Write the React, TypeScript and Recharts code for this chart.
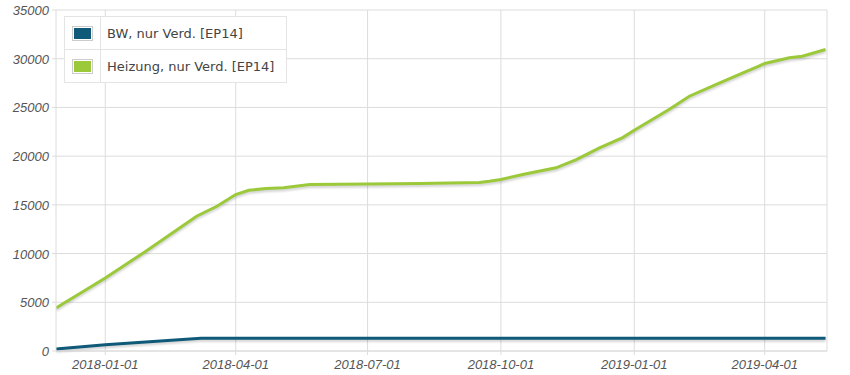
import React from "react";
import {
  LineChart,
  Line,
  XAxis,
  YAxis,
  CartesianGrid,
  ReferenceLine,
} from "recharts";

const seriesNames = ["BW, nur Verd. [EP14]", "Heizung, nur Verd. [EP14]"];
const seriesColors = ["#0e5a78", "#9bc93a"];

const bwDates = ["2017-11-28", "2018-01-01", "2018-03-08", "2018-06-01", "2018-10-01", "2019-01-01", "2019-05-13"];
const bwValues = [200, 650, 1300, 1300, 1300, 1300, 1300];

const heizDates = [
  "2017-11-28", "2018-01-01", "2018-01-29", "2018-03-05", "2018-03-19",
  "2018-04-01", "2018-04-10", "2018-04-22", "2018-05-04", "2018-05-22",
  "2018-07-01", "2018-08-06", "2018-09-16", "2018-09-23", "2018-10-01",
  "2018-10-16", "2018-11-08", "2018-11-22", "2018-12-08", "2018-12-24",
  "2019-01-01", "2019-01-25", "2019-02-08", "2019-03-01", "2019-03-17",
  "2019-03-28", "2019-04-01", "2019-04-18", "2019-04-27", "2019-05-13",
];
const heizValues = [
  4420, 7500, 10240, 13830, 14860,
  16060, 16500, 16670, 16750, 17090,
  17150, 17200, 17300, 17420, 17600,
  18110, 18800, 19650, 20850, 21900,
  22650, 24790, 26150, 27520, 28550,
  29230, 29510, 30090, 30250, 30940,
];

const xTickDates = ["2018-01-01", "2018-04-01", "2018-07-01", "2018-10-01", "2019-01-01", "2019-04-01"];
const yTicks = [0, 5000, 10000, 15000, 20000, 25000, 30000, 35000];
const xStart = "2017-11-28";
const xEnd = "2019-05-14";

const ts = (d: string) => Date.parse(d + "T00:00:00Z");
const fmt = (t: number) => new Date(t).toISOString().slice(0, 10);

const bwData = bwDates.map((d, i) => ({ t: ts(d), v: bwValues[i] }));
const heizData = heizDates.map((d, i) => ({ t: ts(d), v: heizValues[i] }));

const XTick = (props: any) => {
  const { x, y, payload } = props;
  return (
    <text x={x} y={y} dy={11} textAnchor="middle" fontFamily="'Liberation Sans', Arial, sans-serif" fontSize={13} fontStyle="italic" fill="#555">
      {fmt(payload.value)}
    </text>
  );
};

const YTick = (props: any) => {
  const { x, y, payload } = props;
  return (
    <text x={x} y={y} dy={5} textAnchor="end" fontFamily="'Liberation Sans', Arial, sans-serif" fontSize={13} fontStyle="italic" fill="#555">
      {payload.value}
    </text>
  );
};

export default function App() {
  return (
    <div style={{ position: "absolute", left: 0, top: 0, width: 850, height: 375, background: "#fff" }}>
      <style>{`.shadow-line path { filter: drop-shadow(0px 2px 1px rgba(0,0,0,0.18)); }`}</style>
      <LineChart width={850} height={375} margin={{ top: 10, right: 23, left: 0, bottom: 0 }}>
        <CartesianGrid stroke="#dcdcdc" verticalValues={xTickDates.map(ts)} horizontalValues={yTicks} />
        <XAxis
          type="number"
          dataKey="t"
          domain={[ts(xStart), ts(xEnd)]}
          ticks={xTickDates.map(ts)}
          allowDataOverflow
          height={24}
          tick={<XTick />}
          tickSize={4}
          tickMargin={3}
          stroke="#dcdcdc"
        />
        <YAxis
          type="number"
          domain={[0, 35000]}
          ticks={yTicks}
          width={56}
          tick={<YTick />}
          tickSize={4}
          tickMargin={3}
          stroke="#dcdcdc"
        />
        <ReferenceLine x={ts(xEnd)} stroke="#dcdcdc" />
        <Line
          data={bwData}
          dataKey="v"
          name={seriesNames[0]}
          stroke={seriesColors[0]}
          strokeWidth={3}
          dot={false}
          className="shadow-line"
          isAnimationActive={false}
        />
        <Line
          data={heizData}
          dataKey="v"
          name={seriesNames[1]}
          stroke={seriesColors[1]}
          strokeWidth={3}
          dot={false}
          className="shadow-line"
          isAnimationActive={false}
        />
      </LineChart>
      {/* Legend */}
      <div
        style={{
          position: "absolute",
          left: 64,
          top: 16,
          background: "#fff",
          border: "1px solid #e4e4e4",
          fontFamily: "'DejaVu Sans', Verdana, sans-serif",
          fontSize: 13,
          color: "#444",
        }}
      >
        {seriesNames.map((n, i) => (
          <div
            key={n}
            style={{
              display: "flex",
              alignItems: "center",
              height: 32,
              borderTop: i > 0 ? "1px solid #e4e4e4" : "none",
            }}
          >
            <div style={{ width: 35, height: "100%", display: "flex", alignItems: "center", justifyContent: "center", borderRight: "1px solid #e4e4e4" }}>
              <div style={{ width: 17, height: 11, background: seriesColors[i], border: "1px solid #fff", outline: "1px solid #ccc" }} />
            </div>
            <span style={{ padding: "0 12px 0 6px" }}>{n}</span>
          </div>
        ))}
      </div>
    </div>
  );
}
